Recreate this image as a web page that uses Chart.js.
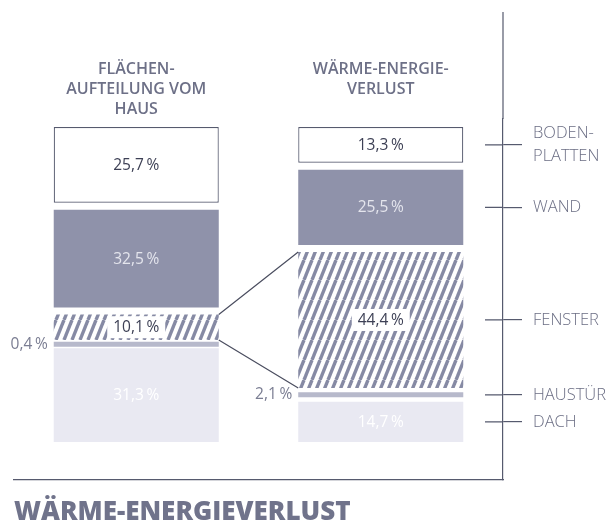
<!DOCTYPE html>
<html><head><meta charset="utf-8">
<script src="https://cdn.jsdelivr.net/npm/chart.js@4"></script>
<style>html,body{margin:0;padding:0;background:#fff;}#wrap{width:615px;height:526px;position:relative;}</style>
</head><body><div id="wrap"><canvas id="c" width="615" height="526" style="width:615px;height:526px"></canvas></div>
<script>
// ---- data ----
const columnHeaders = [['FLÄCHEN-', 'AUFTEILUNG VOM', 'HAUS'], ['WÄRME-ENERGIE-', 'VERLUST']];
const parts = ['BODENPLATTEN', 'WAND', 'FENSTER', 'HAUSTÜR', 'DACH'];
const partTickLabels = [['BODEN-', 'PLATTEN'], 'WAND', 'FENSTER', 'HAUSTÜR', 'DACH'];
const areaShare = [25.7, 32.5, 10.1, 0.4, 31.3];   // Flächenaufteilung vom Haus (%)
const heatLoss  = [13.3, 25.5, 44.4, 2.1, 14.7];   // Wärme-Energieverlust (%)
const chartTitle = 'WÄRME-ENERGIEVERLUST';

// ---- styles ----
const FONT = '"Open Sans", "DejaVu Sans", sans-serif';
Chart.defaults.font.family = FONT;
const INK = '#565a6e';
function hatch(){
  const c = document.createElement('canvas'); c.width = 8; c.height = 20;
  const g = c.getContext('2d');
  g.strokeStyle = '#868aa4'; g.lineWidth = 3.4;
  for (const a of [-8, 0, 8, 16]) { g.beginPath(); g.moveTo(a, 20); g.lineTo(a + 8, 0); g.stroke(); }
  return g.createPattern(c, 'repeat');
}
const fills = ['#ffffff', '#8f92aa', hatch(), '#b7b9cb', '#e9e9f2'];
const labelColors = ['#3d4055', '#e4e5ed', '#3d4055', '#7a7d92', '#ffffff'];

// midpoints of the heat-loss segments (stack is built from the bottom: DACH first)
const order = parts.map((_, i) => i).reverse();
const lossMids = [];
{ let acc = 0; order.forEach(i => { lossMids[i] = acc + heatLoss[i] / 2; acc += heatLoss[i]; }); }

const datasets = order.map(i => ({
  label: parts[i],
  data: [areaShare[i], heatLoss[i]],
  backgroundColor: fills[i],
  borderColor: i === 0 ? INK : 'rgba(0,0,0,0)',
  borderWidth: i === 0 ? 1.2 : 0,
  borderSkipped: false,
  labelColor: labelColors[i],
  labelBox: i === 2,
  isFenster: i === 2,
  barPercentage: 0.675,
  categoryPercentage: 1
}));

const fmt = v => v.toFixed(1).replace('.', ',') + '\u2009%';

// segment gaps
const GAP = 7, MINH = 5;
const gapPlugin = {
  id: 'gap',
  afterDatasetsUpdate(chart) {
    chart.data.datasets.forEach((ds, i) => {
      chart.getDatasetMeta(i).data.forEach(el => {
        let top = el.y + GAP / 2, bot = el.base - GAP / 2;
        if (bot - top < MINH) { const c = (el.y + el.base) / 2; top = c - MINH / 2; bot = c + MINH / 2; }
        el.y = top; el.base = bot; el.height = bot - top;
      });
    });
  }
};

const labelPlugin = {
  id: 'labels',
  afterDatasetsDraw(chart) {
    const ctx = chart.ctx;
    ctx.save();
    // connectors between the window segments
    chart.data.datasets.forEach((ds, i) => {
      if (!ds.isFenster) return;
      const [L, R] = chart.getDatasetMeta(i).data;
      ctx.strokeStyle = '#4a4d5f'; ctx.lineWidth = 1.2;
      ctx.beginPath();
      ctx.moveTo(L.x + L.width / 2, L.y); ctx.lineTo(R.x - R.width / 2, R.y);
      ctx.moveTo(L.x + L.width / 2, L.base); ctx.lineTo(R.x - R.width / 2, R.base);
      ctx.stroke();
    });
    ctx.font = '400 15.5px ' + FONT;
    ctx.textBaseline = 'middle';
    chart.data.datasets.forEach((ds, i) => {
      chart.getDatasetMeta(i).data.forEach((el, j) => {
        const v = ds.data[j], cy = (el.y + el.base) / 2, txt = fmt(v);
        if (v < 3) {
          ctx.textAlign = 'right'; ctx.fillStyle = '#7a7d92';
          ctx.fillText(txt, el.x - el.width / 2 - 6, cy);
        } else {
          ctx.textAlign = 'center';
          if (ds.labelBox) {
            const w = ctx.measureText(txt).width + 12;
            ctx.fillStyle = '#ffffff'; ctx.fillRect(el.x - w / 2, cy - 11, w, 22);
          }
          ctx.fillStyle = ds.labelColor;
          ctx.fillText(txt, el.x, cy + 0.5);
        }
      });
    });
    ctx.restore();
  }
};

const axisPlugin = {
  id: 'axisExtras',
  afterDraw(chart) {
    const s = chart.scales.y2, ctx = chart.ctx, x = s.left;
    ctx.save();
    ctx.strokeStyle = INK; ctx.lineWidth = 1.2;
    ctx.beginPath();
    ctx.moveTo(x, 12); ctx.lineTo(x, chart.chartArea.top);
    s.ticks.forEach(t => { const y = s.getPixelForValue(t.value); ctx.moveTo(x - 18, y); ctx.lineTo(x, y); });
    ctx.stroke();
    ctx.restore();
  }
};

new Chart(document.getElementById('c'), {
  type: 'bar',
  data: { labels: columnHeaders, datasets },
  options: {
    responsive: false,
    animation: false,
    events: [],
    layout: { padding: { left: 14, right: 0, top: 59, bottom: 0 } },
    plugins: {
      legend: { display: false },
      tooltip: { enabled: false },
      title: {
        display: true, text: chartTitle, position: 'bottom', align: 'start',
        color: '#70738b', font: { size: 26, weight: '800', lineHeight: 1 },
        padding: { top: 20, bottom: 0 }
      }
    },
    scales: {
      x: {
        position: 'top', stacked: true,
        grid: { display: false, drawTicks: false }, border: { display: false },
        ticks: { padding: 0, crossAlign: 'far', color: '#6d7087', font: { size: 16, weight: '600', lineHeight: 1.25 } }
      },
      xb: {
        type: 'category', position: 'bottom',
        grid: { display: false, drawTicks: false },
        border: { display: true, color: INK, width: 1.2 },
        ticks: { display: false }
      },
      y: { display: false, stacked: true, min: -10.68, max: 101.39 },
      y2: {
        type: 'linear', position: 'right', min: -10.68, max: 101.39,
        afterBuildTicks: s => { s.ticks = lossMids.map(v => ({ value: v })); },
        afterFit: s => { s.width = 112; },
        grid: { drawOnChartArea: false, drawTicks: true, tickLength: 19, color: INK, lineWidth: 1.2 },
        border: { display: true, color: INK, width: 1.2 },
        ticks: {
          autoSkip: false, padding: 11, color: '#6b6e84',
          font: { size: 16.5, weight: '300', lineHeight: 1.35 },
          callback: (v, i) => partTickLabels[i]
        }
      }
    }
  },
  plugins: [gapPlugin, labelPlugin, axisPlugin]
});
</script></body></html>
